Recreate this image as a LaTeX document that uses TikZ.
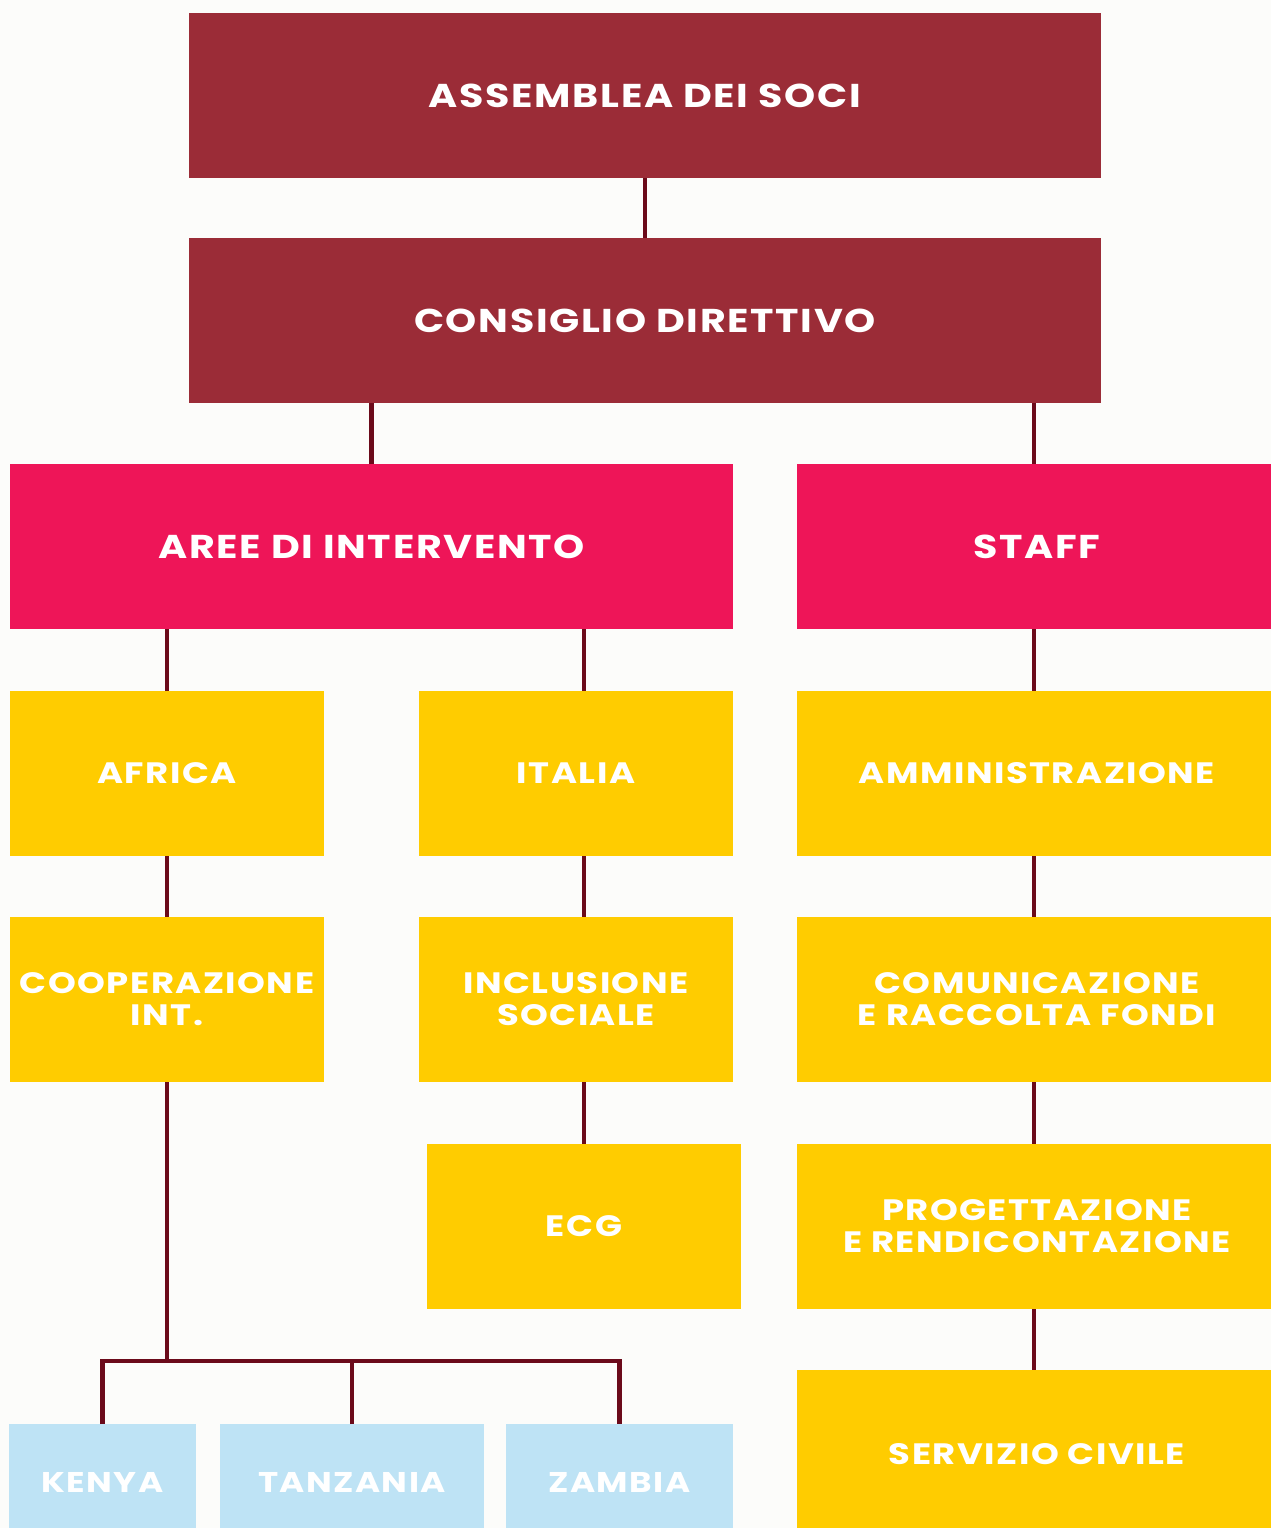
\documentclass[tikz,border=0pt]{standalone}
\usepackage{fontspec}
\setmainfont{Poppins}[LetterSpace=5,FakeStretch=1.2]
\definecolor{bgc}{HTML}{FCFCFA}
\definecolor{maroonc}{HTML}{9B2C37}
\definecolor{pinkc}{HTML}{EE1558}
\definecolor{yellowc}{HTML}{FFCC00}
\definecolor{bluec}{HTML}{BEE3F5}
\definecolor{linec}{HTML}{6B0A1A}
\newcommand{\lowertxt}[2]{\raisebox{-#1}[\height][0pt]{#2}}
\begin{document}
\begin{tikzpicture}[x=1pt,y=-1pt,
  box/.style={inner sep=0pt, outer sep=0pt, align=center, text=white,
    font=\fontsize{33}{34}\selectfont\bfseries},
  maroonbox/.style={box, fill=maroonc},
  pinkbox/.style={box, fill=pinkc},
  yellowbox/.style={box, fill=yellowc, font=\fontsize{29.5}{32}\selectfont\bfseries},
  bluebox/.style={box, fill=bluec, font=\fontsize{28.5}{32}\selectfont\bfseries},
  conn/.style={draw=linec, line width=4.2pt, line join=miter}]
\fill[bgc] (0,0) rectangle (1271,1528);
\useasboundingbox (0,0) rectangle (1271,1528);
% boxes
\node[maroonbox, minimum width=912, minimum height=165] (assemblea) at (645,95.5) {ASSEMBLEA DEI SOCI};
\node[maroonbox, minimum width=912, minimum height=165] (consiglio) at (645,320.5) {CONSIGLIO DIRETTIVO};
\node[pinkbox, minimum width=723, minimum height=165] (aree) at (371.5,546.5) {AREE DI INTERVENTO};
\node[pinkbox, minimum width=474, minimum height=165] (staff) at (1034,546.5) {\hspace*{6pt}STAFF};
\node[yellowbox, minimum width=314, minimum height=165] (africa) at (167,773.5) {AFRICA};
\node[yellowbox, minimum width=314, minimum height=165] (italia) at (576,773.5) {ITALIA};
\node[yellowbox, minimum width=474, minimum height=165] (amm) at (1034,773.5) {\hspace*{6pt}AMMINISTRAZIONE};
\node[yellowbox, minimum width=314, minimum height=165] (coop) at (167,999.5) {COOPERAZIONE\\INT.};
\node[yellowbox, minimum width=314, minimum height=165] (incl) at (576,999.5) {INCLUSIONE\\SOCIALE};
\node[yellowbox, minimum width=474, minimum height=165] (comun) at (1034,999.5) {\hspace*{6pt}COMUNICAZIONE\\\hspace*{6pt}E RACCOLTA FONDI};
\node[yellowbox, minimum width=314, minimum height=165] (ecg) at (584,1226.5) {ECG};
\node[yellowbox, minimum width=474, minimum height=165] (prog) at (1034,1226.5) {\hspace*{6pt}PROGETTAZIONE\\\hspace*{6pt}E RENDICONTAZIONE};
\node[yellowbox, minimum width=474, minimum height=158] (serv) at (1034,1449) {\lowertxt{5pt}{\hspace*{6pt}SERVIZIO CIVILE}};
\node[bluebox, minimum width=187, minimum height=104] (kenya) at (102.5,1476) {\lowertxt{6pt}{KENYA}};
\node[bluebox, minimum width=264, minimum height=104] (tanzania) at (352,1476) {\lowertxt{6pt}{TANZANIA}};
\node[bluebox, minimum width=227, minimum height=104] (zambia) at (619.5,1476) {\lowertxt{6pt}{ZAMBIA}};
\coordinate (bar) at (0,1361);
% connectors
\draw[conn] (assemblea.south) -- (consiglio.north);
\draw[conn] (aree.north) -- (aree.north |- consiglio.south);
\draw[conn] (staff.north) -- (staff.north |- consiglio.south);
\draw[conn] (africa.north) -- (africa.north |- aree.south);
\draw[conn] (ecg.north |- aree.south) -- (ecg.north |- italia.north);
\draw[conn] (africa.south) -- (coop.north);
\draw[conn] (ecg.north |- italia.south) -- (ecg.north |- incl.north);
\draw[conn] (ecg.north) -- (ecg.north |- incl.south);
\draw[conn] (staff.south) -- (amm.north);
\draw[conn] (amm.south) -- (comun.north);
\draw[conn] (comun.south) -- (prog.north);
\draw[conn] (prog.south) -- (serv.north);
\draw[conn] (coop.south) -- (coop.south |- bar);
\draw[conn] (kenya.north) -- (kenya.north |- bar) -- (zambia.north |- bar) -- (zambia.north);
\draw[conn] (tanzania.north) -- (tanzania.north |- bar);
\end{tikzpicture}
\end{document}
